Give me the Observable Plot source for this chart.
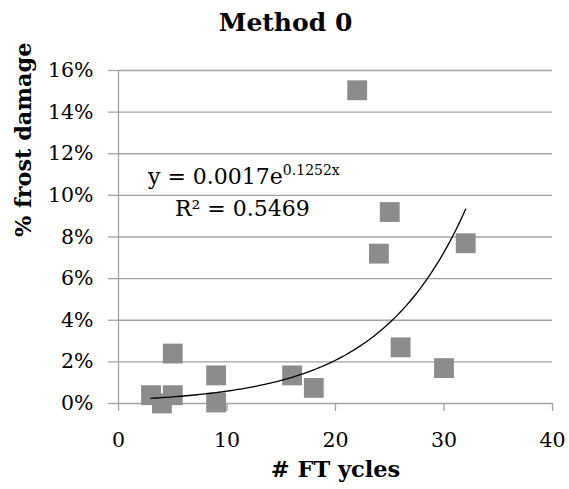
<!DOCTYPE html>
<html>
<head>
<meta charset="utf-8">
<script src="https://cdn.jsdelivr.net/npm/d3@7"></script>
<script src="https://cdn.jsdelivr.net/npm/@observablehq/plot@0.6"></script>
<style>
  html, body { margin: 0; padding: 0; background: white; }
</style>
</head>
<body>
<div id="chart"></div>
<script>
// ---- data ----
const ftCycles = [3, 4, 5, 5, 9, 9, 16, 18, 22, 24, 25, 26, 30, 32];
const frostDamage = [0.004, 0.000, 0.004, 0.024, 0.0135, 0.0005, 0.0135, 0.0075, 0.1505, 0.072, 0.092, 0.027, 0.017, 0.077];
const xTicks = [0, 10, 20, 30, 40];
const yTicks = [0, 0.02, 0.04, 0.06, 0.08, 0.10, 0.12, 0.14, 0.16];
// exponential trendline shown on the chart: y = a * e^(b x)
const trendA = 0.0017;
const trendB = 0.1252;
const trendRange = [3, 32];
const titleText = "Method 0";
const xLabel = "# FT ycles";
const yLabel = "% frost damage";
const eqMain = "y = 0.0017e";
const eqExp = "0.1252x";
const r2Text = "R\u00B2 = 0.5469";

const points = ftCycles.map((x, i) => ({x, y: frostDamage[i]}));
const trend = d3.range(trendRange[0], trendRange[1] + 0.001, 0.25).map(x => ({x, y: trendA * Math.exp(trendB * x)}));

const grey = "#a3a3a3";
const serif = "DejaVu Serif, Liberation Serif, serif";
const pct = d => Math.round(d * 100) + "%";

const svg = Plot.plot({
  width: 569,
  height: 489,
  marginLeft: 118,
  marginRight: 17,
  marginTop: 70,
  marginBottom: 86,
  style: {fontFamily: serif, fontSize: "20px", color: "black", background: "white"},
  x: {domain: [0, 40]},
  y: {domain: [0, 0.16]},
  marks: [
    Plot.gridY(yTicks, {stroke: grey, strokeOpacity: 1, strokeWidth: 1.3}),
    Plot.ruleX([0], {stroke: grey, strokeWidth: 1.3}),
    Plot.axisY(yTicks, {tickSize: 10, stroke: grey, strokeWidth: 1.3, tickFormat: () => "", label: null}),
    Plot.axisX(xTicks, {tickSize: 8, stroke: grey, strokeWidth: 1.3, tickFormat: () => "", label: null}),
    Plot.text(yTicks, {frameAnchor: "left", y: d => d, text: pct, textAnchor: "end", lineAnchor: "middle", dx: -25, fontSize: 20.5}),
    Plot.text(xTicks, {frameAnchor: "bottom", x: d => d, text: d => String(d), lineAnchor: "middle", dy: 37, fontSize: 20.5}),
    Plot.dot(points, {x: "x", y: "y", symbol: "square", r: 11.2, fill: "#8c8c8c", stroke: null}),
    Plot.line(trend, {x: "x", y: "y", stroke: "black", strokeWidth: 1.3}),
    Plot.text([eqMain], {x: 2.72, y: 0.109, text: d => d, textAnchor: "start", lineAnchor: "middle", fontSize: 22, className: "eq"}),
    Plot.text([r2Text], {x: 5.2, y: 0.0936, text: d => d, textAnchor: "start", lineAnchor: "middle", fontSize: 22}),
    Plot.text([titleText], {frameAnchor: "top", dx: -50, dy: -48, lineAnchor: "middle", text: d => d, fontSize: 25, fontWeight: "bold"}),
    Plot.text([xLabel], {frameAnchor: "bottom", dy: 66, lineAnchor: "middle", text: d => d, fontSize: 22.5, fontWeight: "bold"}),
    Plot.text([yLabel], {frameAnchor: "left", dx: -95, rotate: -90, lineAnchor: "middle", text: d => d, fontSize: 22.4, fontWeight: "bold"})
  ]
});

// add the superscript exponent to the trendline equation
const eqText = svg.querySelector(".eq text");
if (eqText) {
  const ts = document.createElementNS("http://www.w3.org/2000/svg", "tspan");
  ts.setAttribute("font-size", "14");
  ts.setAttribute("dy", "-9");
  ts.textContent = eqExp;
  eqText.appendChild(ts);
}

document.getElementById("chart").appendChild(svg);
</script>
</body>
</html>
